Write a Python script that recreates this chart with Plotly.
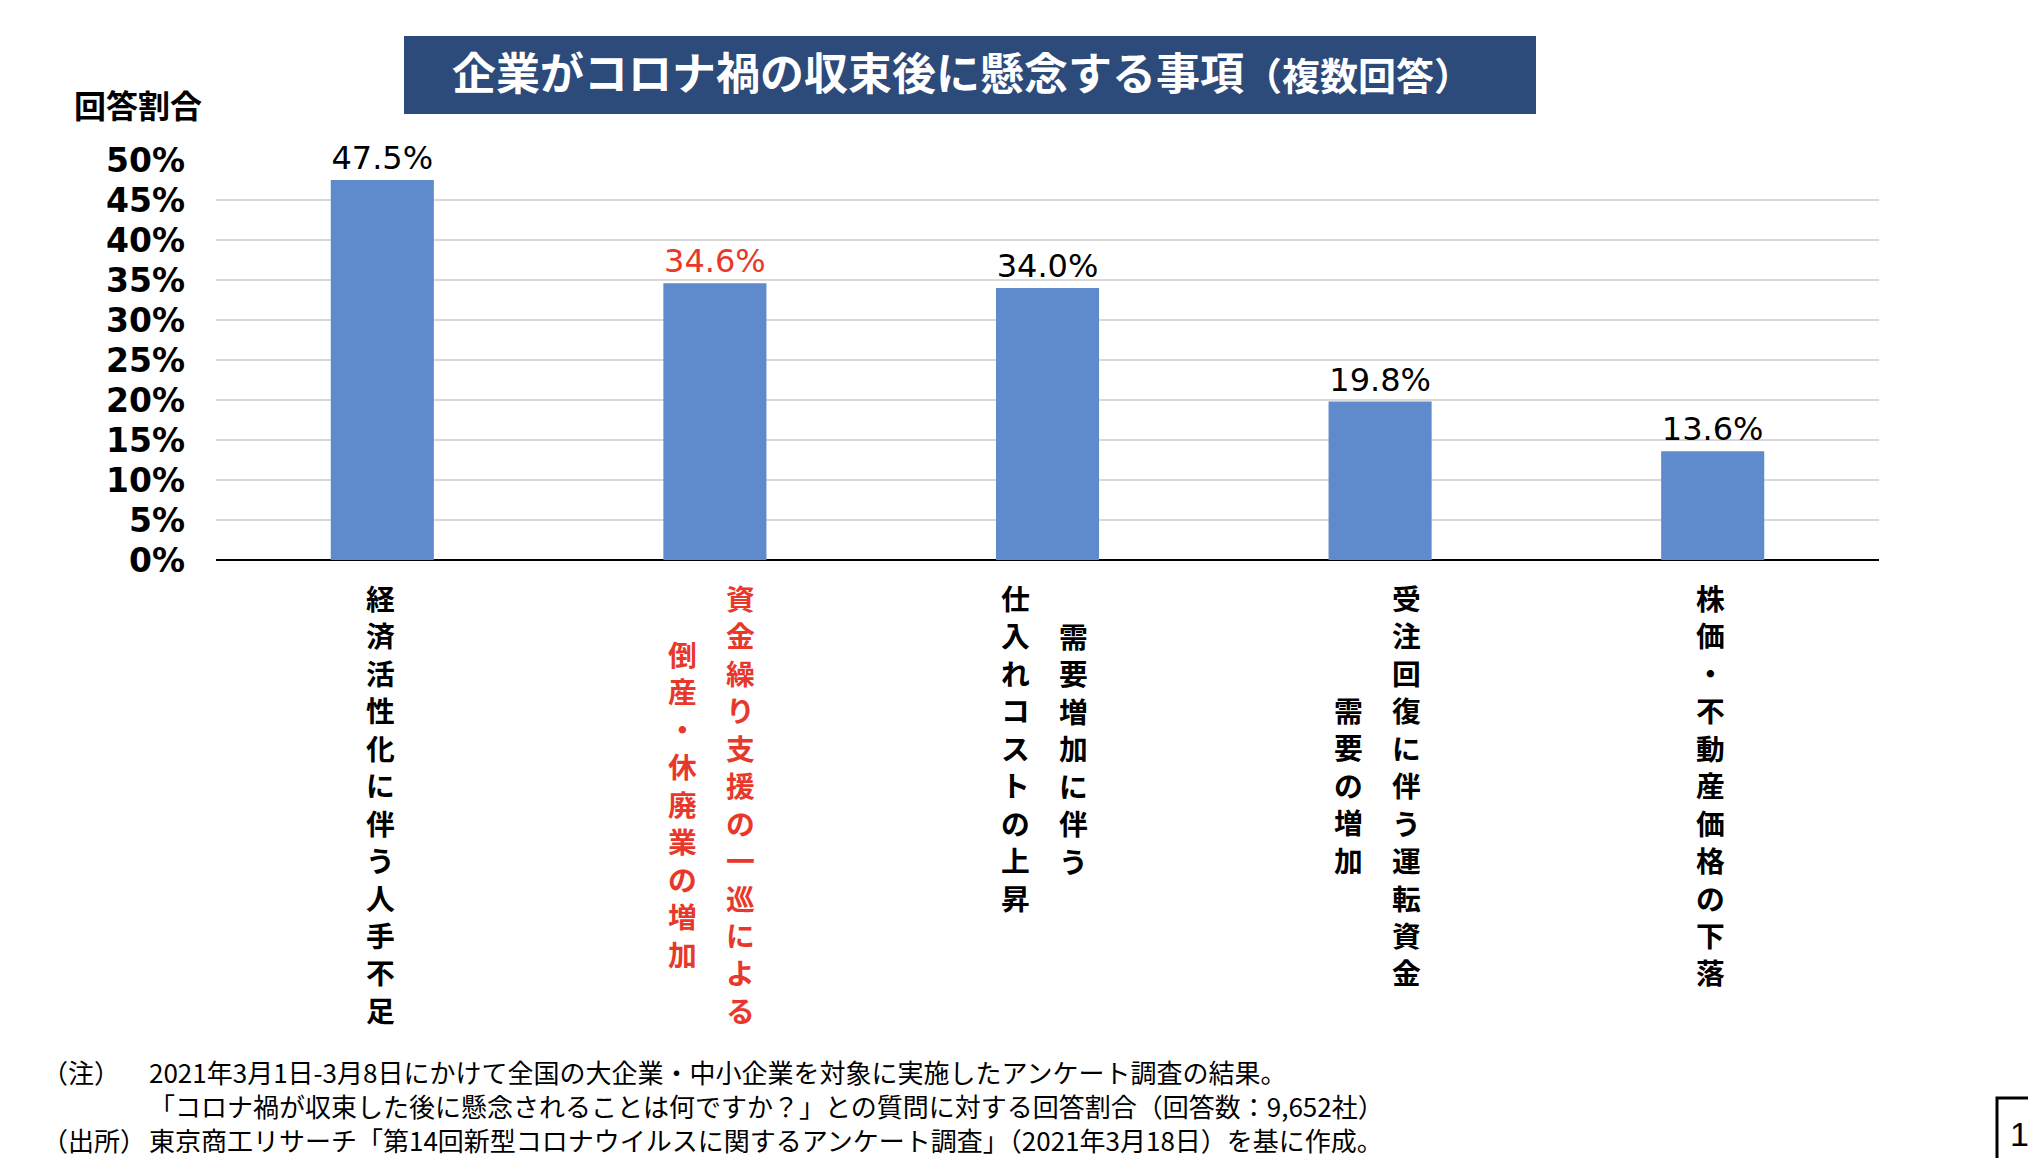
import plotly.graph_objects as go

# ---------------- data ----------------
categories = [
    "経済活性化に伴う人手不足",
    "資金繰り支援の一巡による倒産・休廃業の増加",
    "需要増加に伴う仕入れコストの上昇",
    "受注回復に伴う運転資金需要の増加",
    "株価・不動産価格の下落",
]
# label columns in reading order (vertical writing, right column first)
label_columns = [
    ["経済活性化に伴う人手不足"],
    ["資金繰り支援の一巡による", "倒産・休廃業の増加"],
    ["需要増加に伴う", "仕入れコストの上昇"],
    ["受注回復に伴う運転資金", "需要の増加"],
    ["株価・不動産価格の下落"],
]
values = [47.5, 34.6, 34.0, 19.8, 13.6]
highlight = [False, True, False, False, False]
y_ticks = [0, 5, 10, 15, 20, 25, 30, 35, 40, 45, 50]

title_main = "企業がコロナ禍の収束後に懸念する事項"
title_sub = "（複数回答）"
y_title = "回答割合"
note_heads = ["（注）", " ", "（出所）"]
note_lines = [
    "2021年3月1日-3月8日にかけて全国の大企業・中小企業を対象に実施したアンケート調査の結果。",
    "「コロナ禍が収束した後に懸念されることは何ですか？」との質問に対する回答割合（回答数：9,652社）",
    "東京商工リサーチ「第14回新型コロナウイルスに関するアンケート調査」（2021年3月18日）を基に作成。",
]
page_no = "10"

# ---------------- styling ----------------
OFF = 8                      # page body margin of the html page
W, H = 2036 - OFF, 1158 - OFF
# plot area in screen pixels
L, R, T, B = 216, 1879, 160, 560
BAR = "#5F8BCD"
RED = "#E8382B"
NAVY = "#2C4A7A"
CJK = "Noto Sans CJK JP"


def px_x(px):
    return (px - L) / (R - L)


def px_y(py):
    return (B - py) / (B - T)


text_colors = [RED if h else "black" for h in highlight]

fig = go.Figure()
fig.add_trace(go.Bar(
    x=categories,
    y=values,
    marker=dict(color=BAR, line=dict(width=0)),
    text=[f"{v:.1f}%" for v in values],
    textposition="outside",
    textfont=dict(family="DejaVu Sans", size=32, color=text_colors),
    cliponaxis=False,
    width=0.31,
    hoverinfo="skip",
))

fig.update_layout(
    width=W, height=H,
    margin=dict(l=L - OFF, r=W - (R - OFF), t=T - OFF, b=H - (B - OFF)),
    paper_bgcolor="white",
    plot_bgcolor="white",
    showlegend=False,
    xaxis=dict(
        type="category",
        showticklabels=False,
        showgrid=False,
        showline=False,
        ticks="",
        range=[-0.5, len(categories) - 0.5],
    ),
    yaxis=dict(
        range=[0, 50],
        tickvals=y_ticks,
        ticktext=[f"{t}%" for t in y_ticks],
        tickfont=dict(family="DejaVu Sans", size=33, color="black", weight="bold"),
        showgrid=True,
        gridcolor="#D9D9D9",
        gridwidth=2,
        zeroline=True,
        zerolinecolor="black",
        zerolinewidth=2,
        ticklabelstandoff=30,
        showline=False,
        ticks="",
    ),
)

annotations = []
# vertical category labels: one stacked-character annotation per column
step = 36.8
first_center = 603.6
for i, cols in enumerate(label_columns):
    color = RED if highlight[i] else "black"
    n_max = max(len(c) for c in cols)
    col_center = first_center + (n_max - 1) * step / 2
    offsets = [-2] if len(cols) == 1 else [26, -32]
    for col, off in zip(cols, offsets):
        annotations.append(dict(
            x=categories[i], xref="x",
            y=0, yref="paper",
            xshift=off,
            yshift=-(col_center - 3 - B),
            yanchor="middle", xanchor="center",
            text="<br>".join(list(col)),
            align="center",
            showarrow=False,
            font=dict(family=CJK, size=28.8, color=color, weight="bold"),
        ))

# title
annotations.append(dict(
    x=px_x(962), y=px_y(71), xref="paper", yref="paper",
    xanchor="center", yanchor="middle",
    text=f"{title_main}<span style='font-size:38px'>{title_sub}</span>",
    showarrow=False,
    font=dict(family=CJK, size=44, color="white", weight="bold"),
))
# y axis title
annotations.append(dict(
    x=px_x(138), y=px_y(104), xref="paper", yref="paper",
    xanchor="center", yanchor="middle",
    text=y_title, showarrow=False,
    font=dict(family=CJK, size=32, color="black", weight="bold"),
))
# notes (heads column + text column)
note_font = dict(family=CJK, size=26, color="black")
annotations.append(dict(x=px_x(40), y=px_y(1105), xref="paper", yref="paper",
                        xanchor="left", yanchor="middle", align="left",
                        text="<br>".join(note_heads),
                        showarrow=False, font=note_font))
annotations.append(dict(x=px_x(147), y=px_y(1105), xref="paper", yref="paper",
                        xanchor="left", yanchor="middle", align="left",
                        text="<br>".join(note_lines),
                        showarrow=False, font=note_font))
# page number
annotations.append(dict(x=px_x(2008), y=px_y(1134), xref="paper", yref="paper",
                        xanchor="left", yanchor="middle", text=page_no,
                        showarrow=False,
                        font=dict(family="Liberation Sans", size=34, color="black")))

fig.update_layout(annotations=annotations)

fig.update_layout(shapes=[
    dict(type="rect", xref="paper", yref="paper",
         x0=px_x(404), x1=px_x(1536), y0=px_y(114), y1=px_y(36),
         fillcolor=NAVY, line=dict(width=0), layer="below"),
    dict(type="rect", xref="paper", yref="paper",
         x0=px_x(1997), x1=px_x(2070), y0=px_y(1180), y1=px_y(1098),
         fillcolor="rgba(0,0,0,0)", line=dict(color="black", width=3)),
])

fig.write_html("out.html")
